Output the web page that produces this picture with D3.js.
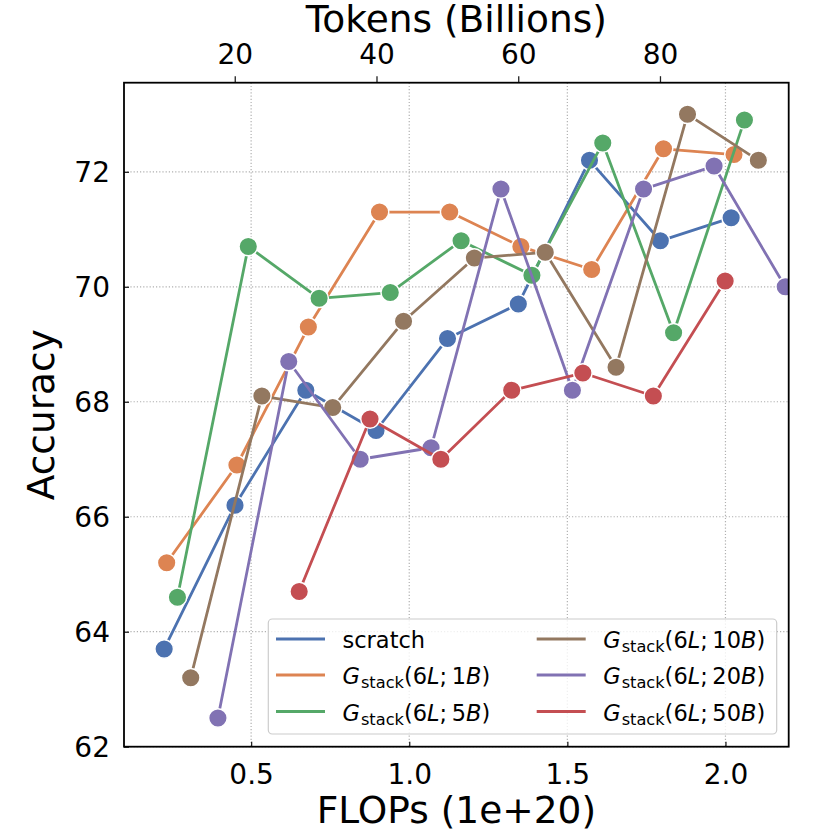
<!DOCTYPE html>
<html>
<head>
<meta charset="utf-8">
<script src="https://cdn.jsdelivr.net/npm/d3@7"></script>
<style>
  html, body { margin: 0; padding: 0; background: #fff; }
  svg { display: block; font-family: "DejaVu Sans", sans-serif; }
</style>
</head>
<body>
<svg id="chart" width="830" height="830"></svg>
<script>
// ---- data ----
const seriesNames = ["scratch", "1B", "5B", "10B", "20B", "50B"];
const seriesColors = ["#4C72B0", "#DD8452", "#55A868", "#937860", "#8172B3", "#C44E52"];

const flopsScratch = [0.225, 0.449, 0.673, 0.895, 1.121, 1.345, 1.570, 1.794, 2.018];
const accScratch   = [63.7, 66.2, 68.2, 67.5, 69.1, 69.7, 72.2, 70.8, 71.2];

const flops1B = [0.233, 0.455, 0.681, 0.906, 1.128, 1.353, 1.577, 1.804, 2.027];
const acc1B   = [65.2, 66.9, 69.3, 71.3, 71.3, 70.7, 70.3, 72.4, 72.3];

const flops5B = [0.267, 0.491, 0.715, 0.940, 1.164, 1.388, 1.612, 1.836, 2.060];
const acc5B   = [64.6, 70.7, 69.8, 69.9, 70.8, 70.2, 72.5, 69.2, 72.9];

const flops10B = [0.309, 0.534, 0.758, 0.982, 1.206, 1.430, 1.654, 1.880, 2.104];
const acc10B   = [63.2, 68.1, 67.9, 69.4, 70.5, 70.6, 68.6, 73.0, 72.2];

const flops20B = [0.395, 0.619, 0.845, 1.069, 1.290, 1.516, 1.741, 1.964, 2.189];
const acc20B   = [62.5, 68.7, 67.0, 67.2, 71.7, 68.2, 71.7, 72.1, 70.0];

const flops50B = [0.652, 0.876, 1.100, 1.324, 1.549, 1.772, 1.999];
const acc50B   = [64.7, 67.7, 67.0, 68.2, 68.5, 68.1, 70.1];

const xTicks = [0.5, 1.0, 1.5, 2.0];
const yTicks = [62, 64, 66, 68, 70, 72];
const tokenTicks = [20, 40, 60, 80];
const tokensPerFlop = 44.62; // Billions of tokens per 1e20 FLOPs

const allFlops = [flopsScratch, flops1B, flops5B, flops10B, flops20B, flops50B];
const allAcc = [accScratch, acc1B, acc5B, acc10B, acc20B, acc50B];
const series = seriesNames.map((name, i) => ({
  name, color: seriesColors[i],
  pts: allFlops[i].map((f, j) => ({ x: f, y: allAcc[i][j] }))
}));

// ---- layout ----
const svg = d3.select("#chart");
const L = 124, R = 788.7, T = 82.7, B = 746.7;
const x = d3.scaleLinear().domain([0.098, 2.2]).range([L, R]);
const y = d3.scaleLinear().domain([62, 73.55]).range([B, T]);
const xTop = d3.scaleLinear().domain(x.domain().map(d => d * tokensPerFlop)).range([L, R]);

const tickFont = 28, labelFont = 37.5, legendFont = 22.5;

svg.append("defs").append("clipPath").attr("id", "clip")
  .append("rect").attr("x", L).attr("y", T).attr("width", R - L).attr("height", B - T);

// grid
const grid = svg.append("g").attr("stroke", "#b0b0b0").attr("stroke-width", 1.2)
  .attr("stroke-dasharray", "1.2,2");
grid.selectAll(".gx").data(xTicks).join("line")
  .attr("x1", d => x(d)).attr("x2", d => x(d)).attr("y1", T).attr("y2", B);
grid.selectAll(".gy").data(yTicks).join("line")
  .attr("x1", L).attr("x2", R).attr("y1", d => y(d)).attr("y2", d => y(d));

// series
const plot = svg.append("g").attr("clip-path", "url(#clip)");
const lineGen = d3.line().x(d => x(d.x)).y(d => y(d.y));
series.forEach(s => {
  const g = plot.append("g");
  g.append("path").datum(s.pts).attr("d", lineGen)
    .attr("fill", "none").attr("stroke", s.color).attr("stroke-width", 2.8)
    .attr("stroke-linejoin", "round").attr("stroke-linecap", "round");
  g.selectAll("circle").data(s.pts).join("circle")
    .attr("cx", d => x(d.x)).attr("cy", d => y(d.y)).attr("r", 9.3)
    .attr("fill", s.color).attr("stroke", "#fff").attr("stroke-width", 1.5);
});

// axes with d3
const axBottom = svg.append("g").attr("transform", `translate(0,${B})`)
  .call(d3.axisBottom(x).tickValues(xTicks).tickFormat(d3.format(".1f")).tickSize(-5).tickPadding(14));
const axLeft = svg.append("g").attr("transform", `translate(${L},0)`)
  .call(d3.axisLeft(y).tickValues(yTicks).tickFormat(d3.format("d")).tickSize(-5).tickPadding(14));
const axTop = svg.append("g").attr("transform", `translate(0,${T})`)
  .call(d3.axisTop(xTop).tickValues(tokenTicks).tickFormat(d3.format("d")).tickSize(6.5).tickPadding(13));
[axBottom, axLeft, axTop].forEach(a => {
  a.select(".domain").remove();
  a.selectAll(".tick line").attr("stroke", "#222").attr("stroke-width", 1.3);
  a.selectAll(".tick text").attr("font-size", tickFont).attr("fill", "#000")
    .attr("font-family", "DejaVu Sans");
});
axBottom.selectAll(".tick text").attr("dy", null).attr("y", 37.5).attr("dominant-baseline", "auto");
axTop.selectAll(".tick text").attr("dy", null).attr("y", -19).attr("dominant-baseline", "auto");
axLeft.selectAll(".tick text").attr("dy", "0.36em");

// frame
svg.append("rect").attr("x", L).attr("y", T).attr("width", R - L).attr("height", B - T)
  .attr("fill", "none").attr("stroke", "#000").attr("stroke-width", 1.8);

// axis labels
svg.append("text").attr("x", (L + R) / 2).attr("y", 823).attr("text-anchor", "middle")
  .attr("font-size", labelFont).text("FLOPs (1e+20)");
svg.append("text").attr("x", (L + R) / 2).attr("y", 32).attr("text-anchor", "middle")
  .attr("font-size", labelFont).text("Tokens (Billions)");
svg.append("text").attr("transform", `translate(54,${(T + B) / 2}) rotate(-90)`)
  .attr("text-anchor", "middle").attr("font-size", labelFont).text("Accuracy");

// legend
const leg = svg.append("g");
leg.append("rect").attr("x", 268.3).attr("y", 619).attr("width", 508.4).attr("height", 115)
  .attr("rx", 4).attr("fill", "#fff").attr("fill-opacity", 0.8)
  .attr("stroke", "#cccccc").attr("stroke-width", 1.2);
const rowY = [639, 675, 711.5];
const colX = [276, 536.7];
series.forEach((s, i) => {
  const cx = colX[Math.floor(i / 3)], cy = rowY[i % 3];
  leg.append("line").attr("x1", cx).attr("x2", cx + 49).attr("y1", cy).attr("y2", cy)
    .attr("stroke", s.color).attr("stroke-width", 2.8);
  const t = leg.append("text").attr("x", cx + 66.5).attr("y", cy + 9).attr("font-size", legendFont);
  if (s.name === "scratch") {
    t.text("scratch");
  } else {
    const num = s.name.replace("B", "");
    t.append("tspan").attr("font-style", "italic").text("G");
    t.append("tspan").attr("font-size", legendFont * 0.72).attr("dy", 4).attr("dx", 1).text("stack");
    t.append("tspan").attr("dy", -4).text("(6");
    t.append("tspan").attr("font-style", "italic").text("L");
    t.append("tspan").text(";\u2009" + num);
    t.append("tspan").attr("font-style", "italic").text("B");
    t.append("tspan").text(")");
  }
});
</script>
</body>
</html>
